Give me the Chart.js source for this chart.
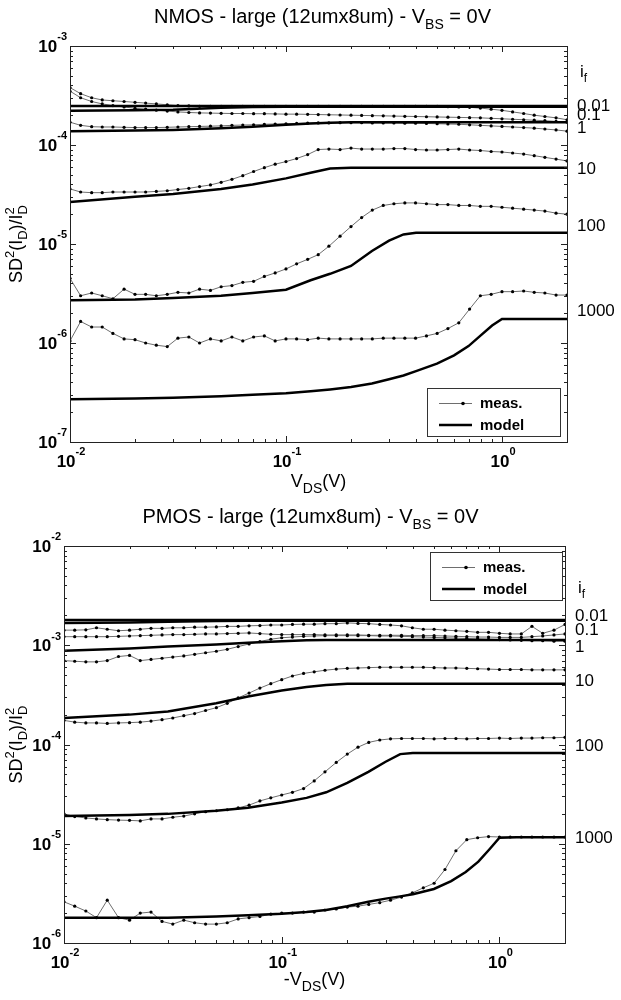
<!DOCTYPE html>
<html>
<head>
<meta charset="utf-8">
<script src="https://cdn.jsdelivr.net/npm/chart.js@4.4.0/dist/chart.umd.min.js"></script>
<style>
    body { margin: 0; background: #fff; }
    .panel { position: relative; width: 621px; height: 500px; }
    canvas { display: block; }
</style>
</head>
<body>
<div class="panel"><canvas id="nmosChart" width="621" height="500"></canvas></div>
<div class="panel"><canvas id="pmosChart" width="621" height="500"></canvas></div>
<script>
// ========== DATOS ==========
// V_DS medidos (V)
const xMeas = [0.01, 0.0112, 0.0126, 0.0141, 0.0158, 0.0178, 0.02, 0.0224, 0.0251, 0.0282,
    0.0316, 0.0355, 0.0398, 0.0447, 0.0501, 0.0562, 0.0631, 0.0708, 0.0794, 0.0891,
    0.1, 0.112, 0.126, 0.141, 0.158, 0.178, 0.2, 0.224, 0.251, 0.282,
    0.316, 0.355, 0.398, 0.447, 0.501, 0.562, 0.631, 0.708, 0.794, 0.891,
    1.0, 1.12, 1.26, 1.41, 1.58, 1.78, 2.0];
// V_DS del modelo (V)
const xModel = [0.01, 0.02, 0.03, 0.05, 0.07, 0.1, 0.13, 0.16, 0.2, 0.25, 0.3, 0.35, 0.4,
    0.5, 0.6, 0.7, 0.8, 0.9, 1.0, 1.2, 1.5, 2.0];

// NMOS - medidas
const nmosMeas001 = [3.8, 3.3, 3.0, 2.85, 2.8, 2.75, 2.7, 2.65, 2.6, 2.55,
    2.5, 2.48, 2.46, 2.45, 2.45, 2.45, 2.45, 2.45, 2.45, 2.45,
    2.45, 2.45, 2.45, 2.45, 2.45, 2.45, 2.45, 2.45, 2.45, 2.45,
    2.45, 2.45, 2.45, 2.45, 2.45, 2.44, 2.42, 2.4, 2.36, 2.3,
    2.24, 2.16, 2.08, 2.0, 1.94, 1.88, 1.8];                       // x1e-4
const nmosMeas01 = [3.5, 3.0, 2.75, 2.6, 2.5, 2.42, 2.35, 2.3, 2.25, 2.2,
    2.16, 2.13, 2.11, 2.1, 2.09, 2.08, 2.08, 2.07, 2.07, 2.06,
    2.05, 2.05, 2.04, 2.03, 2.02, 2.01, 2.0, 1.99, 1.98, 1.97,
    1.96, 1.95, 1.94, 1.93, 1.92, 1.91, 1.9, 1.89, 1.88, 1.86,
    1.84, 1.82, 1.8, 1.78, 1.76, 1.73, 1.7];                       // x1e-4
const nmosMeas1 = [1.7, 1.58, 1.53, 1.52, 1.52, 1.51, 1.5, 1.5, 1.5, 1.51,
    1.52, 1.53, 1.54, 1.55, 1.56, 1.58, 1.59, 1.6, 1.62, 1.63,
    1.64, 1.65, 1.66, 1.67, 1.67, 1.68, 1.68, 1.68, 1.67, 1.67,
    1.67, 1.66, 1.66, 1.65, 1.64, 1.63, 1.62, 1.6, 1.58, 1.56,
    1.54, 1.52, 1.5, 1.48, 1.45, 1.42, 1.38];                      // x1e-4
const nmosMeas10 = [3.6, 3.35, 3.3, 3.3, 3.35, 3.35, 3.35, 3.35, 3.4, 3.45,
    3.55, 3.65, 3.8, 3.95, 4.2, 4.5, 4.9, 5.4, 5.9, 6.4,
    6.8, 7.3, 8.0, 9.0, 9.1, 9.0, 9.3, 9.1, 9.1, 9.1,
    9.2, 9.2, 9.0, 8.9, 8.9, 9.0, 9.1, 8.9, 8.8, 8.6,
    8.5, 8.3, 8.1, 7.8, 7.5, 7.2, 6.9];                            // x1e-5
const nmosMeas100 = [4.5, 3.0, 3.2, 3.0, 2.8, 3.5, 3.1, 3.1, 3.0, 3.1,
    3.25, 3.2, 3.5, 3.4, 3.7, 3.8, 4.1, 4.2, 4.7, 5.1,
    5.6, 6.3, 7.0, 7.8, 9.5, 12, 15, 18.5, 22, 24.5,
    25.5, 26, 26, 25.5, 25, 25, 24.5, 24.5, 24, 24,
    23.5, 23, 22.5, 22, 21.5, 20.5, 20];                           // x1e-6
const nmosMeas1000 = [1.05, 1.65, 1.45, 1.45, 1.25, 1.1, 1.08, 1.0, 0.95, 0.92,
    1.12, 1.15, 1.0, 1.1, 1.05, 1.15, 1.05, 1.15, 1.18, 1.05,
    1.1, 1.1, 1.08, 1.12, 1.1, 1.1, 1.1, 1.1, 1.1, 1.12,
    1.12, 1.12, 1.12, 1.18, 1.25, 1.4, 1.6, 2.2, 3.0, 3.1,
    3.3, 3.3, 3.35, 3.25, 3.2, 3.05, 3.05];                        // x1e-6

// NMOS - modelo
const nmosModel001 = [2.48, 2.48, 2.48, 2.48, 2.48, 2.48, 2.48, 2.48, 2.48, 2.48, 2.48,
    2.48, 2.48, 2.48, 2.48, 2.48, 2.48, 2.48, 2.48, 2.48, 2.48, 2.48];   // x1e-4
const nmosModel01 = [2.22, 2.24, 2.27, 2.38, 2.42, 2.43, 2.43, 2.43, 2.43, 2.43, 2.43,
    2.43, 2.43, 2.43, 2.43, 2.43, 2.43, 2.43, 2.43, 2.43, 2.43, 2.43];   // x1e-4
const nmosModel1 = [1.38, 1.4, 1.42, 1.48, 1.53, 1.6, 1.65, 1.68, 1.7, 1.7, 1.7,
    1.7, 1.7, 1.7, 1.7, 1.7, 1.7, 1.7, 1.7, 1.7, 1.7, 1.7];              // x1e-4
const nmosModel10 = [2.65, 3.0, 3.2, 3.6, 4.0, 4.6, 5.25, 5.8, 5.9, 5.9, 5.9,
    5.9, 5.9, 5.9, 5.9, 5.9, 5.9, 5.9, 5.9, 5.9, 5.9, 5.9];              // x1e-5
const nmosModel100 = [2.7, 2.75, 2.85, 3.0, 3.2, 3.45, 4.3, 5.0, 6.0, 8.5, 10.8,
    12.5, 13, 13, 13, 13, 13, 13, 13, 13, 13, 13];                       // x1e-6
const nmosModel1000 = [2.7, 2.75, 2.8, 2.9, 3.0, 3.1, 3.25, 3.4, 3.6, 3.9, 4.3,
    4.7, 5.2, 6.2, 7.5, 9.3, 12.0, 15.0, 17.5, 17.5, 17.5, 17.5];        // x1e-7

// PMOS - medidas
const pmosMeas001 = [1.42, 1.42, 1.43, 1.5, 1.45, 1.4, 1.42, 1.45, 1.48, 1.48,
    1.5, 1.5, 1.52, 1.52, 1.53, 1.55, 1.55, 1.57, 1.58, 1.6,
    1.6, 1.62, 1.63, 1.63, 1.65, 1.65, 1.68, 1.66, 1.65, 1.62,
    1.6, 1.57, 1.5, 1.45, 1.45, 1.42, 1.4, 1.38, 1.35, 1.35,
    1.32, 1.3, 1.3, 1.55, 1.32, 1.42, 1.62];                       // x1e-3
const pmosMeas01 = [1.22, 1.22, 1.22, 1.22, 1.22, 1.23, 1.24, 1.25, 1.26, 1.27,
    1.28, 1.28, 1.29, 1.3, 1.3, 1.31, 1.32, 1.33, 1.31, 1.29,
    1.28, 1.28, 1.28, 1.28, 1.27, 1.27, 1.27, 1.27, 1.26, 1.26,
    1.26, 1.26, 1.25, 1.25, 1.25, 1.24, 1.23, 1.22, 1.21, 1.21,
    1.2, 1.2, 1.2, 1.22, 1.24, 1.27, 1.3];                         // x1e-3
const pmosMeas1 = [7.0, 6.9, 6.8, 6.8, 7.0, 7.7, 7.9, 7.0, 7.2, 7.4,
    7.6, 7.8, 8.1, 8.4, 8.7, 9.1, 9.7, 10.3, 10.9, 11.5,
    11.9, 12.1, 12.3, 12.4, 12.5, 12.5, 12.5, 12.5, 12.5, 12.4,
    12.4, 12.3, 12.2, 12.1, 12.0, 11.9, 11.8, 11.7, 11.6, 11.5,
    11.4, 11.3, 11.2, 11.1, 11.1, 11.0, 11.0];                     // x1e-4
const pmosMeas10 = [1.75, 1.68, 1.65, 1.65, 1.63, 1.65, 1.66, 1.68, 1.72, 1.78,
    1.85, 1.95, 2.05, 2.2, 2.35, 2.6, 2.95, 3.3, 3.7, 4.1,
    4.5, 4.9, 5.2, 5.4, 5.6, 5.75, 5.85, 5.9, 5.95, 6.0,
    6.0, 6.0, 6.0, 6.0, 5.95, 5.9, 5.9, 5.85, 5.8, 5.75,
    5.7, 5.7, 5.7, 5.65, 5.65, 5.65, 5.65];                        // x1e-4
const pmosMeas100 = [2.0, 1.88, 1.82, 1.78, 1.75, 1.73, 1.72, 1.7, 1.78, 1.78,
    1.85, 1.9, 2.0, 2.1, 2.15, 2.2, 2.3, 2.45, 2.7, 2.9,
    3.1, 3.3, 3.6, 4.3, 5.3, 6.6, 8.0, 9.4, 10.5, 11.1,
    11.4, 11.5, 11.5, 11.5, 11.4, 11.5, 11.5, 11.4, 11.5, 11.5,
    11.6, 11.5, 11.6, 11.6, 11.7, 11.7, 11.8];                     // x1e-5
const pmosMeas1000 = [2.6, 2.35, 2.1, 1.8, 2.7, 1.8, 1.7, 2.0, 2.05, 1.65,
    1.55, 1.7, 1.6, 1.55, 1.55, 1.6, 1.75, 1.8, 1.85, 1.95,
    2.0, 2.0, 2.05, 2.05, 2.15, 2.2, 2.3, 2.35, 2.45, 2.55,
    2.7, 2.9, 3.2, 3.6, 4.0, 5.5, 8.5, 11.0, 11.5, 11.8,
    11.7, 11.7, 11.7, 11.7, 11.7, 11.7, 11.7];                     // x1e-6

// PMOS - modelo
const pmosModel001 = [1.8, 1.8, 1.8, 1.8, 1.8, 1.8, 1.8, 1.8, 1.8, 1.8, 1.8,
    1.8, 1.8, 1.8, 1.8, 1.8, 1.8, 1.8, 1.8, 1.8, 1.8, 1.8];              // x1e-3
const pmosModel01 = [1.68, 1.7, 1.72, 1.76, 1.77, 1.77, 1.77, 1.77, 1.77, 1.77, 1.77,
    1.77, 1.77, 1.77, 1.77, 1.77, 1.77, 1.77, 1.77, 1.77, 1.77, 1.77];   // x1e-3
const pmosModel1 = [0.88, 0.93, 0.97, 1.02, 1.06, 1.1, 1.12, 1.13, 1.13, 1.13, 1.13,
    1.13, 1.13, 1.13, 1.13, 1.13, 1.13, 1.13, 1.13, 1.13, 1.13, 1.13];   // x1e-3
const pmosModel10 = [1.85, 2.0, 2.15, 2.6, 3.05, 3.5, 3.8, 3.98, 4.1, 4.1, 4.1,
    4.1, 4.1, 4.1, 4.1, 4.1, 4.1, 4.1, 4.1, 4.1, 4.1, 4.1];              // x1e-4
const pmosModel100 = [1.9, 1.95, 2.0, 2.15, 2.3, 2.6, 2.9, 3.3, 4.1, 5.3, 6.7,
    8.0, 8.2, 8.2, 8.2, 8.2, 8.2, 8.2, 8.2, 8.2, 8.2, 8.2];              // x1e-5
const pmosModel1000 = [1.8, 1.8, 1.8, 1.85, 1.9, 1.97, 2.05, 2.15, 2.35, 2.6, 2.8,
    2.95, 3.1, 3.5, 4.2, 5.2, 6.6, 8.8, 11.5, 11.6, 11.6, 11.6];         // x1e-6

// Ejes y etiquetas
const xTicks = [0.01, 0.1, 1];
const xTickExp = ['-2', '-1', '0'];
const nmosYTicks = [1e-7, 1e-6, 1e-5, 1e-4, 1e-3];
const nmosYExp = ['-7', '-6', '-5', '-4', '-3'];
const pmosYTicks = [1e-6, 1e-5, 1e-4, 1e-3, 1e-2];
const pmosYExp = ['-6', '-5', '-4', '-3', '-2'];
const ifLabels = ['0.01', '0.1', '1', '10', '100', '1000'];
const nmosIfAt = [2.5e-4, 2.03e-4, 1.5e-4, 5.8e-5, 1.55e-5, 2.15e-6];
const pmosIfAt = [2.0e-3, 1.45e-3, 0.98e-3, 4.4e-4, 9.8e-5, 1.16e-5];

// ========== UTILIDADES ==========
const FONT = '"Liberation Sans", Arial, Helvetica, sans-serif';

function serie(xs, ys, unit) {
    return ys.map((v, i) => ({ x: xs[i], y: v * unit }));
}

function medida(xs, ys, unit) {
    return {
        data: serie(xs, ys, unit),
        borderColor: '#6e6e6e',
        borderWidth: 1,
        pointRadius: 1.6,
        pointBackgroundColor: '#000',
        pointBorderWidth: 0,
        order: 2
    };
}

function modelo(xs, ys, unit) {
    return {
        data: serie(xs, ys, unit),
        borderColor: '#000',
        borderWidth: 2.5,
        pointRadius: 0,
        order: 1
    };
}

// Texto con sub/superindices: partes = [texto, modo('', 'sup', 'sub'), apilado]
function drawRich(ctx, parts, x, y, o) {
    const w = o.bold ? 'bold ' : '';
    const big = w + o.size + 'px ' + FONT;
    const small = w + Math.round(o.size * (o.small || 0.68)) + 'px ' + FONT;
    const items = [];
    let cx = 0, held = 0;
    parts.forEach(p => {
        ctx.font = p[1] ? small : big;
        const tw = ctx.measureText(p[0]).width;
        items.push({ t: p[0], mode: p[1], x: cx });
        if (p[2]) { held = tw; } else { cx += Math.max(tw, held); held = 0; }
    });
    const x0 = o.align === 'center' ? x - cx / 2 : (o.align === 'right' ? x - cx : x);
    ctx.textAlign = 'left';
    ctx.textBaseline = 'alphabetic';
    items.forEach(it => {
        ctx.font = it.mode ? small : big;
        let dy = 0;
        if (it.mode === 'sup') dy = -o.size * (o.rise || 0.45);
        if (it.mode === 'sub') dy = o.size * (o.drop || 0.3);
        ctx.fillText(it.t, x0 + it.x, y + dy);
    });
}

function linea(ctx, x1, y1, x2, y2) {
    ctx.beginPath();
    ctx.moveTo(x1, y1);
    ctx.lineTo(x2, y2);
    ctx.stroke();
}

// ========== DECORACION (marco, ticks, textos, leyenda) ==========
function decoracion(cfg) {
    return {
        id: 'decoracion',
        afterDraw(chart) {
            const ctx = chart.ctx;
            const a = chart.chartArea;
            const xs = chart.scales.x;
            const ys = chart.scales.y;
            ctx.save();
            ctx.fillStyle = '#000';
            ctx.strokeStyle = '#222';
            ctx.lineWidth = 1;

            // marco
            ctx.strokeRect(Math.round(a.left) + 0.5, Math.round(a.top) + 0.5,
                Math.round(a.right - a.left), Math.round(a.bottom - a.top));

            // ticks del eje x (hacia dentro, arriba y abajo)
            for (let e = -2; e <= 0; e++) {
                for (let m = 1; m <= 9; m++) {
                    const v = m * Math.pow(10, e);
                    if (v > 2.0001) continue;
                    const px = Math.round(xs.getPixelForValue(v)) + 0.5;
                    const len = m === 1 ? 6 : 3;
                    linea(ctx, px, a.bottom, px, a.bottom - len);
                    linea(ctx, px, a.top, px, a.top + len);
                }
            }
            // ticks del eje y (izquierda y derecha)
            const e0 = Math.round(Math.log10(cfg.yTicks[0]));
            const e1 = Math.round(Math.log10(cfg.yTicks[cfg.yTicks.length - 1]));
            for (let e = e0; e <= e1; e++) {
                for (let m = 1; m <= 9; m++) {
                    if (e === e1 && m > 1) continue;
                    const py = Math.round(ys.getPixelForValue(m * Math.pow(10, e))) + 0.5;
                    const len = m === 1 ? 6 : 3;
                    linea(ctx, a.left, py, a.left + len, py);
                    linea(ctx, a.right, py, a.right - len, py);
                }
            }

            // etiquetas de los ticks
            const tickOpt = { size: 17, bold: true, small: 0.65, rise: 0.68 };
            xTicks.forEach((v, i) => {
                drawRich(ctx, [['10', ''], [xTickExp[i], 'sup']],
                    xs.getPixelForValue(v) + 1, a.bottom + 25, { ...tickOpt, align: 'center' });
            });
            cfg.yTicks.forEach((v, i) => {
                drawRich(ctx, [['10', ''], [cfg.yExp[i], 'sup']],
                    a.left - 3, ys.getPixelForValue(v) + 6, { ...tickOpt, align: 'right' });
            });

            // titulo
            drawRich(ctx, cfg.title, (a.left + a.right) / 2 + cfg.titleShift, 23,
                { size: 20, align: 'center', drop: 0.3, small: 0.72 });
            // eje x
            drawRich(ctx, cfg.xTitle, (a.left + a.right) / 2, cfg.xTitleY,
                { size: 18, align: 'center', drop: 0.32, small: 0.75 });
            // eje y (rotado)
            ctx.save();
            ctx.translate(22, (a.top + a.bottom) / 2);
            ctx.rotate(-Math.PI / 2);
            drawRich(ctx, [['SD', ''], ['2', 'sup'], ['(I', ''], ['D', 'sub'], [')/I', ''],
                ['2', 'sup', true], ['D', 'sub']], 0, 0,
                { size: 18, align: 'center', rise: 0.42, drop: 0.3, small: 0.72 });
            ctx.restore();

            // etiquetas i_f a la derecha
            const lx = a.right + 10;
            drawRich(ctx, [['i', ''], ['f', 'sub']], lx + 3, ys.getPixelForValue(cfg.ifTitleAt) + 5,
                { size: 17, drop: 0.3, small: 0.7 });
            ctx.font = '17px ' + FONT;
            ctx.textAlign = 'left';
            ctx.textBaseline = 'middle';
            ifLabels.forEach((t, i) => {
                ctx.fillText(t, lx, ys.getPixelForValue(cfg.ifAt[i]) + 1);
            });

            // leyenda
            const L = cfg.legend;
            ctx.fillStyle = '#fff';
            ctx.fillRect(L.x, L.y, L.w, L.h);
            ctx.strokeStyle = '#333';
            ctx.strokeRect(L.x + 0.5, L.y + 0.5, L.w, L.h);
            const r1 = L.y + 15, r2 = L.y + 37;
            ctx.strokeStyle = '#6e6e6e';
            ctx.lineWidth = 1;
            linea(ctx, L.x + 12, r1 + 0.5, L.x + 45, r1 + 0.5);
            ctx.fillStyle = '#000';
            ctx.beginPath();
            ctx.arc(L.x + 36, r1 + 0.5, 1.8, 0, Math.PI * 2);
            ctx.fill();
            ctx.strokeStyle = '#000';
            ctx.lineWidth = 2.5;
            linea(ctx, L.x + 12, r2, L.x + 45, r2);
            ctx.font = 'bold 15px ' + FONT;
            ctx.textBaseline = 'middle';
            ctx.fillText('meas.', L.x + 53, r1 + 1);
            ctx.fillText('model', L.x + 53, r2 + 1);

            ctx.restore();
        }
    };
}

// ========== CREACION DE GRAFICOS ==========
function crearGrafico(id, cfg) {
    const ctx = document.getElementById(id).getContext('2d');
    return new Chart(ctx, {
        type: 'line',
        data: { datasets: cfg.datasets },
        options: {
            responsive: false,
            animation: false,
            devicePixelRatio: 1,
            events: [],
            layout: { padding: { top: cfg.area.top, right: cfg.area.right, bottom: 0, left: 0 } },
            elements: { line: { tension: 0 } },
            plugins: { legend: { display: false }, title: { display: false }, tooltip: { enabled: false } },
            scales: {
                x: {
                    type: 'logarithmic',
                    min: 0.01,
                    max: 2,
                    ticks: { display: false },
                    grid: { display: false },
                    border: { display: false },
                    afterFit: s => { s.height = cfg.area.bottom; }
                },
                y: {
                    type: 'logarithmic',
                    min: cfg.yTicks[0],
                    max: cfg.yTicks[cfg.yTicks.length - 1],
                    ticks: { display: false },
                    grid: { display: false },
                    border: { display: false },
                    afterFit: s => { s.width = cfg.area.left; }
                }
            }
        },
        plugins: [decoracion(cfg)]
    });
}

document.addEventListener('DOMContentLoaded', function() {
    crearGrafico('nmosChart', {
        area: { left: 70, top: 46, right: 54, bottom: 58 },
        yTicks: nmosYTicks,
        yExp: nmosYExp,
        ifAt: nmosIfAt,
        ifTitleAt: 5.5e-4,
        title: [['NMOS - large (12umx8um) - V', ''], ['BS', 'sub'], [' = 0V', '']],
        titleShift: 4,
        xTitle: [['V', ''], ['DS', 'sub'], ['(V)', '']],
        xTitleY: 487,
        legend: { x: 427, y: 388, w: 133, h: 48 },
        datasets: [
            medida(xMeas, nmosMeas001, 1e-4),
            medida(xMeas, nmosMeas01, 1e-4),
            medida(xMeas, nmosMeas1, 1e-4),
            medida(xMeas, nmosMeas10, 1e-5),
            medida(xMeas, nmosMeas100, 1e-6),
            medida(xMeas, nmosMeas1000, 1e-6),
            modelo(xModel, nmosModel001, 1e-4),
            modelo(xModel, nmosModel01, 1e-4),
            modelo(xModel, nmosModel1, 1e-4),
            modelo(xModel, nmosModel10, 1e-5),
            modelo(xModel, nmosModel100, 1e-6),
            modelo(xModel, nmosModel1000, 1e-7)
        ]
    });

    crearGrafico('pmosChart', {
        area: { left: 64, top: 46, right: 56, bottom: 57 },
        yTicks: pmosYTicks,
        yExp: pmosYExp,
        ifAt: pmosIfAt,
        ifTitleAt: 3.8e-3,
        title: [['PMOS - large (12umx8um) - V', ''], ['BS', 'sub'], [' = 0V', '']],
        titleShift: -4,
        xTitle: [['-V', ''], ['DS', 'sub'], ['(V)', '']],
        xTitleY: 485,
        legend: { x: 430, y: 52, w: 132, h: 48 },
        datasets: [
            medida(xMeas, pmosMeas001, 1e-3),
            medida(xMeas, pmosMeas01, 1e-3),
            medida(xMeas, pmosMeas1, 1e-4),
            medida(xMeas, pmosMeas10, 1e-4),
            medida(xMeas, pmosMeas100, 1e-5),
            medida(xMeas, pmosMeas1000, 1e-6),
            modelo(xModel, pmosModel001, 1e-3),
            modelo(xModel, pmosModel01, 1e-3),
            modelo(xModel, pmosModel1, 1e-3),
            modelo(xModel, pmosModel10, 1e-4),
            modelo(xModel, pmosModel100, 1e-5),
            modelo(xModel, pmosModel1000, 1e-6)
        ]
    });
});
</script>
</body>
</html>
